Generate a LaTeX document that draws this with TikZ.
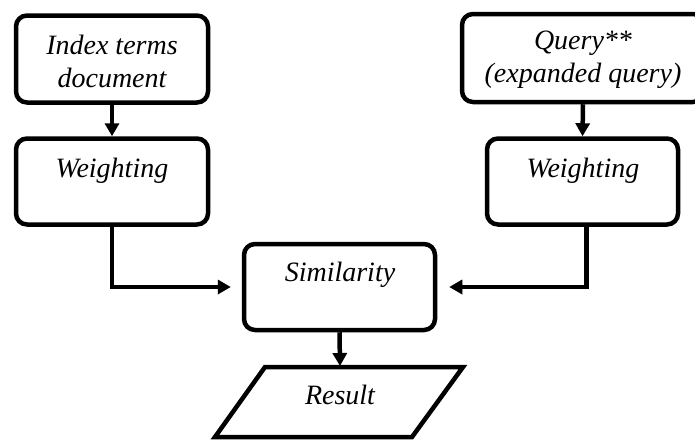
\documentclass[tikz,border=0pt]{standalone}
\usepackage{fontspec}
\setmainfont{Liberation Serif}
\usetikzlibrary{arrows.meta}
\tikzset{
  box/.style={draw=black, line width=4.5pt, rounded corners=11pt, fill=white, inner sep=0pt},
  txt/.style={font=\fontsize{28}{33}\selectfont\itshape, align=center, inner sep=0pt},
  conn/.style={line width=4.5pt, -{Triangle[length=13pt,width=14pt]}},
  shade/.style={line width=4.5pt, draw=black!35, -{Triangle[length=13pt,width=14pt]}, opacity=0.6},
}
\begin{document}
\begin{tikzpicture}[x=1pt,y=-1pt]
\useasboundingbox (0,0) rectangle (695,439);
% boxes
\node[box, minimum width=192pt, minimum height=87pt] (b1) at (112,59) {};
\node[box, minimum width=192pt, minimum height=86pt] (b2) at (112,181.5) {};
\node[box, minimum width=242pt, minimum height=88pt] (b3) at (583,58) {};
\node[box, minimum width=191pt, minimum height=86pt] (b4) at (582.5,181.5) {};
\node[box, minimum width=191pt, minimum height=86pt] (sim) at (339.5,287) {};
% result parallelogram
\coordinate (r1) at (265,367);
\coordinate (r2) at (463,367);
\coordinate (r3) at (412,437);
\coordinate (r4) at (215,437);
\draw[line width=4.5pt, line join=miter] (r1) -- (r2) -- (r3) -- (r4) -- cycle;
\coordinate (rtop) at (340,367);
% texts
\node[txt] (t1) at (112,61) {Index terms\\document};
\node[txt] (t2) at (112,171) {Weighting};
\node[txt] (t3) at (583,60) {Query**\\(expanded query)};
\node[txt] (t4) at (583,171) {Weighting};
\node[txt] (t5) at (340,275) {Similarity};
\node[txt] (t6) at (340,395) {Result};
% connector shadows
\begin{scope}[shift={(2,4)}]
\draw[shade, shorten >=11pt] (b2.south) |- (sim.west);
\draw[shade, shorten >=12pt] ([xshift=4pt]b4.south) |- (sim.east);
\end{scope}
% connectors
\draw[conn] (b1.south) -- (b2.north);
\draw[conn] (b3.south) -- (b4.north);
\draw[conn, shorten >=11pt] (b2.south) |- (sim.west);
\draw[conn, shorten >=12pt] ([xshift=4pt]b4.south) |- (sim.east);
\draw[conn, shorten >=1pt] (sim.south) -- (rtop);
\end{tikzpicture}
\end{document}
